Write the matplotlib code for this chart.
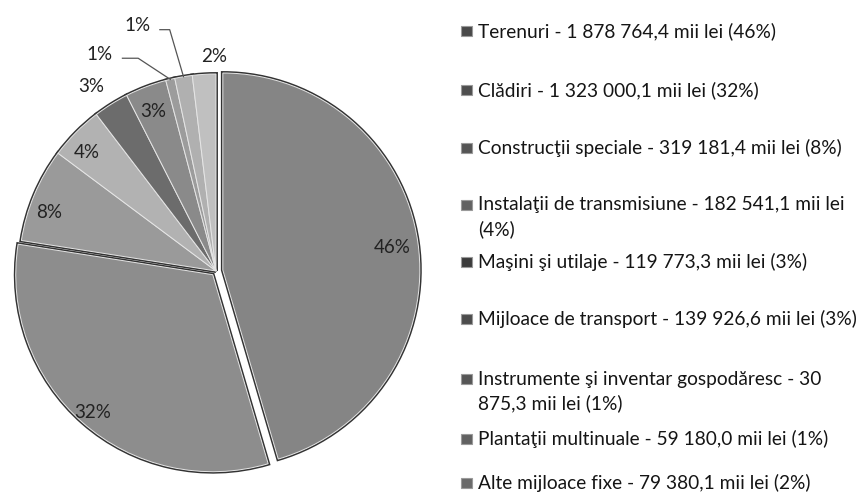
import matplotlib
matplotlib.use("Agg")
import matplotlib.pyplot as plt
import matplotlib.colors as mcolors
import numpy as np

# ---- data ----
categories = ["Terenuri", "Clădiri", "Construcţii speciale", "Instalaţii de transmisiune",
              "Maşini şi utilaje", "Mijloace de transport",
              "Instrumente şi inventar gospodăresc", "Plantaţii multinuale", "Alte mijloace fixe"]
values = [1878764.4, 1323000.1, 319181.4, 182541.1, 119773.3, 139926.6, 30875.3, 59180.0, 79380.1]
pct_labels = [46, 32, 8, 4, 3, 3, 1, 1, 2]

# ---- style ----
plt.rcParams['font.family'] = ['Lato', 'DejaVu Sans']
colors = ['#858585', '#8d8d8d', '#9a9a9a', '#b2b2b2', '#6c6c6c', '#8a8a8a', '#9c9c9c', '#b0b0b0', '#c0c0c0']
explode = [0.035, 0.025, 0, 0, 0, 0, 0, 0, 0]

W, H = 865, 497
fig = plt.figure(figsize=(W / 100, H / 100), dpi=100)
fig.patch.set_facecolor('white')

cx, cy, R = 216, 271, 197
half = R * 1.1
ax = fig.add_axes([(cx - half) / W, (H - cy - half) / H, 2 * half / W, 2 * half / H])
ax.set_aspect('equal')
ax.axis('off')

wedges, _ = ax.pie(values, colors=colors, startangle=90, counterclock=False, explode=explode,
                   radius=1.0, wedgeprops=dict(edgecolor='#333333', linewidth=2.8))
ax.pie(values, colors=colors, startangle=90, counterclock=False, explode=explode,
       radius=1.0, wedgeprops=dict(edgecolor='#e6e6e6', linewidth=0.7))
ax.set_xlim(-1.1, 1.1)
ax.set_ylim(-1.1, 1.1)

pfs = 13.5
# label placement: (radius factor, angle offset in degrees)
label_pos = [(0.87, -0.5), (0.93, 0.3), (0.90, 3.5), (0.89, 2.0), (1.13, 2.0), (0.87, 0.8),
             None, None, (1.09, -3.0)]
for i, w in enumerate(wedges):
    if label_pos[i] is None:
        continue
    r, off = label_pos[i]
    mid = np.deg2rad((w.theta1 + w.theta2) / 2 + off)
    cxw, cyw = w.center
    ax.text(cxw + r * np.cos(mid), cyw + r * np.sin(mid), f"{pct_labels[i]}%",
            ha='center', va='center', fontsize=pfs, color='#222222')

# leader-line labels for the two thin slices
leader_specs = {6: (-0.59, 1.10, 0.08), 7: (-0.40, 1.245, 0.05)}
for i, (lx, ly, hlen) in leader_specs.items():
    w = wedges[i]
    mid = np.deg2rad((w.theta1 + w.theta2) / 2)
    ex, ey = 1.0 * np.cos(mid), 1.0 * np.sin(mid)
    ax.text(lx, ly, f"{pct_labels[i]}%", ha='center', va='center', fontsize=pfs, color='#222222')
    x0 = lx + 0.115
    x1 = x0 + hlen
    ax.plot([x0, x1, ex], [ly - 0.02, ly - 0.02, ey], color='#555555', lw=0.9, clip_on=False)

# ---- legend ----
def fmt(v):
    return f"{v:,.1f}".replace(",", " ").replace(".", ",")

legend_y = [31, 90, 148, 205, 262, 319, 379, 439, 483]
line_h = 24
text_x = 478
max_w = 866 - text_x
renderer = fig.canvas.get_renderer()
fs = 13.8

def wrap(s):
    words = s.split(" ")
    lines, cur = [], ""
    for wd in words:
        trial = wd if not cur else cur + " " + wd
        t = fig.text(0, 0, trial, fontsize=fs)
        wpx = t.get_window_extent(renderer).width
        t.remove()
        if wpx > max_w and cur:
            lines.append(cur)
            cur = wd
        else:
            cur = trial
    lines.append(cur)
    return lines

for i, name in enumerate(categories):
    label = f"{name} - {fmt(values[i])} mii lei ({pct_labels[i]}%)"
    lines = wrap(label)
    y0 = legend_y[i]
    for k, ln in enumerate(lines):
        fig.text(text_x / W, 1 - (y0 + k * line_h) / H, ln, fontsize=fs, color='#151515',
                 ha='left', va='center')
    mw, mh = 11, 10
    dark = np.array(mcolors.to_rgb(colors[i])) * 0.55
    fig.patches.append(plt.Rectangle(((text_x - 17) / W, 1 - (y0 + mh / 2) / H), mw / W, mh / H,
                                     transform=fig.transFigure, facecolor=dark,
                                     edgecolor='#9a9a9a', linewidth=0.8))

fig.savefig("out.png", dpi=100, facecolor='white')
